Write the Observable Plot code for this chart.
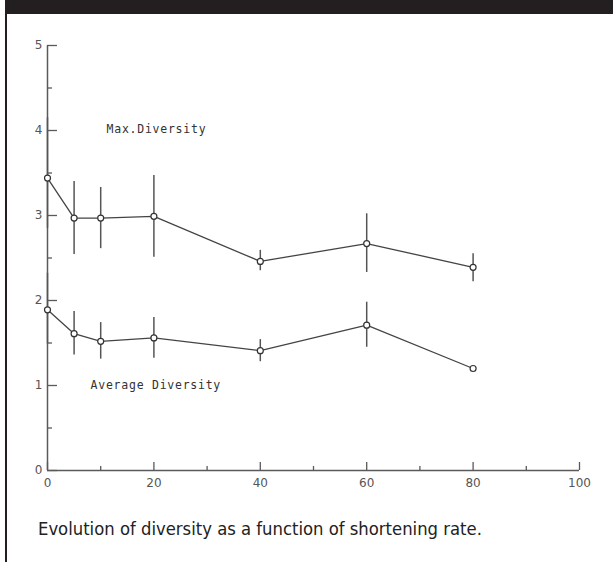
<!DOCTYPE html>
<html>
<head>
<meta charset="utf-8">
<script src="https://cdn.jsdelivr.net/npm/d3@7"></script>
<script src="https://cdn.jsdelivr.net/npm/@observablehq/plot@0.6"></script>
<style>
  html, body { margin: 0; padding: 0; background: #fff; }
  #page { position: relative; width: 613px; height: 562px; overflow: hidden; }
  #header { position: absolute; left: 5px; top: 0; width: 608px; height: 14px; background: #231f20; }
  #border { position: absolute; left: 5px; top: 0; width: 2px; height: 562px; background: #231f20; }
  #chart { position: absolute; left: 0; top: 0; }
  #chart g[aria-label="text"] text { letter-spacing: 0.75px; }
  #caption { position: absolute; left: 38px; top: 518px; font-family: "Liberation Sans Narrow", "DejaVu Sans Condensed", sans-serif; font-size: 18.3px; color: #222; white-space: nowrap; }
</style>
</head>
<body>
<div id="page">
  <div id="chart"></div>
  <div id="header"></div>
  <div id="border"></div>
  <div id="caption">Evolution of diversity as a function of shortening rate.</div>
</div>
<script>
const rate     = [0, 5, 10, 20, 40, 60, 80];
const maxMean  = [3.44, 2.97, 2.97, 2.99, 2.46, 2.67, 2.39];
const maxLow   = [2.85, 2.54, 2.61, 2.51, 2.35, 2.33, 2.22];
const maxHigh  = [4.15, 3.40, 3.33, 3.47, 2.59, 3.02, 2.55];
const avgMean  = [1.89, 1.61, 1.52, 1.56, 1.41, 1.71, 1.20];
const avgLow   = [1.49, 1.36, 1.31, 1.32, 1.28, 1.45, null];
const avgHigh  = [2.32, 1.87, 1.74, 1.80, 1.54, 1.98, null];
const seriesNames = ["Max.Diversity", "Average Diversity"];
const labelX = [11.1, 8.1];
const labelY = [4.01, 1.0];
const xMajor = [0, 20, 40, 60, 80, 100];
const xMinor = [10, 30, 50, 70, 90];
const yMajor = [0, 1, 2, 3, 4, 5];
const yMinor = [0.5, 1.5, 2.5, 3.5, 4.5];

const rows = [];
rate.forEach((r, i) => {
  rows.push({series: seriesNames[0], rate: r, mean: maxMean[i], low: maxLow[i], high: maxHigh[i]});
});
rate.forEach((r, i) => {
  rows.push({series: seriesNames[1], rate: r, mean: avgMean[i], low: avgLow[i], high: avgHigh[i]});
});
const bars = rows.filter(d => d.low != null && d.high != null);
const labels = seriesNames.map((s, i) => ({text: s, x: labelX[i], y: labelY[i]}));

const tickFont = "'DejaVu Sans', sans-serif";
const labelFont = "'DejaVu Sans Mono', monospace";
const axisColor = "#5a5a5a";

const plot = Plot.plot({
  width: 613,
  height: 500,
  marginLeft: 47,
  marginRight: 34,
  marginTop: 45,
  marginBottom: 30,
  style: {background: "transparent", fontFamily: tickFont, fontSize: "10px", color: "#444", overflow: "visible"},
  x: {domain: [0, 100]},
  y: {domain: [0, 5]},
  marks: [
    Plot.ruleX([0], {stroke: axisColor, strokeWidth: 1.5}),
    Plot.ruleY([0], {stroke: axisColor, strokeWidth: 1.5}),
    Plot.axisY(yMajor, {tickSize: -10, stroke: axisColor, strokeWidth: 1.3, text: null}),
    Plot.axisY(yMinor, {tickSize: -5, stroke: axisColor, strokeWidth: 1.3, text: null}),
    Plot.axisY(yMajor, {tickSize: 0, tickPadding: 5, tickFormat: "d", label: null, fill: "#555", fontSize: 12}),
    Plot.axisX(xMajor, {tickSize: -8, stroke: axisColor, strokeWidth: 1.3, text: null}),
    Plot.axisX(xMinor, {tickSize: -4, stroke: axisColor, strokeWidth: 1.3, text: null}),
    Plot.axisX(xMajor, {tickSize: 0, tickPadding: 8, tickFormat: "d", label: null, fill: "#555", fontSize: 12}),
    Plot.ruleX(bars, {x: "rate", y1: "low", y2: "high", stroke: "#555", strokeWidth: 1.5}),
    Plot.line(rows, {x: "rate", y: "mean", z: "series", stroke: "#444", strokeWidth: 1.3}),
    Plot.dot(rows, {x: "rate", y: "mean", r: 3, stroke: "#333", strokeWidth: 1.2, fill: "white"}),
    Plot.text(labels, {x: "x", y: "y", text: "text", textAnchor: "start", fontSize: 11.5, fill: "#333", fontFamily: labelFont})
  ]
});
document.getElementById("chart").appendChild(plot);
</script>
</body>
</html>
